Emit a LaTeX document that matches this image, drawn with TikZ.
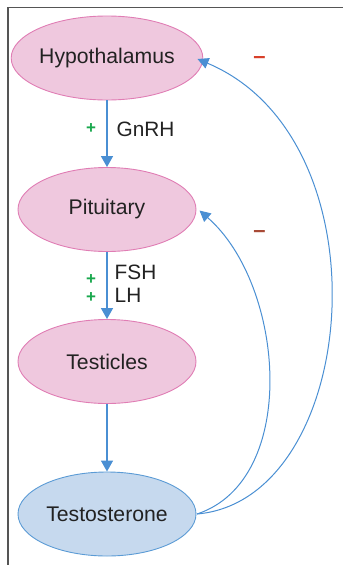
\documentclass[tikz,border=0pt]{standalone}
\usepackage{fontspec}
\setmainfont{Liberation Sans}
\usetikzlibrary{arrows.meta,shapes.geometric}
\definecolor{pinkfill}{HTML}{EFC8DE}
\definecolor{pinkdraw}{HTML}{E07DB4}
\definecolor{bluefill}{HTML}{C6D9EE}
\definecolor{bluedraw}{HTML}{5B9BD5}
\definecolor{arrowblue}{HTML}{4A8FD3}
\definecolor{plusgreen}{HTML}{1AA84E}
\definecolor{minusred}{HTML}{D8402A}
\definecolor{minusbrown}{HTML}{A84A36}
\definecolor{framegray}{HTML}{555555}
\definecolor{txt}{HTML}{222222}
\tikzset{
  organ/.style={ellipse, minimum width=178pt, minimum height=84pt, inner sep=0pt,
    fill=pinkfill, draw=pinkdraw, line width=0.9pt, text=txt,
    font=\fontsize{21.2}{25}\selectfont},
  hormone/.style={organ, fill=bluefill, draw=bluedraw},
  flow/.style={draw=arrowblue, line width=1.4pt, -{Triangle[width=12pt,length=11pt]}},
  fb/.style={draw=arrowblue, line width=1pt, -{Triangle[width=11pt,length=11pt]}},
  lbl/.style={text=txt, font=\fontsize{20.8}{24}\selectfont, anchor=west, inner sep=0pt},
  plus/.style={text=plusgreen, font=\fontsize{17}{18}\selectfont\bfseries, inner sep=0pt},
  minus/.style={font=\fontsize{22}{24}\selectfont\bfseries, inner sep=0pt}
}
\begin{document}
\begin{tikzpicture}[x=1pt,y=-1pt]
\useasboundingbox (0,0) rectangle (343,565);
\draw[framegray, line width=1.5pt] (8,565) -- (8,7.5) -- (343,7.5);
\node[organ] (hyp) at (107,58) {Hypothalamus};
\node[organ] (pit) at (107,209.5) {Pituitary};
\node[organ] (tes) at (107,361.5) {Testicles};
\node[hormone] (tst) at (107,514) {Testosterone};
\draw[flow] (hyp) -- (pit);
\draw[flow] (pit) -- (tes);
\draw[flow] (tes) -- (tst);
\node[lbl] (gnrh) at (116.5,129) {GnRH};
\node[lbl] (fsh) at (114.5,272) {FSH};
\node[lbl] (lh) at (114.5,295) {LH};
\node[plus] (p1) at (91,129) {+};
\node[plus] (p2) at (91,279.5) {+};
\node[plus] (p3) at (91,297.5) {+};
\coordinate (s) at (197,514);
\coordinate (hend) at (197.5,59);
\coordinate (pend) at (199.5,210.5);
\draw[fb] (s) .. controls (360,500) and (390,140) .. (hend);
\draw[fb] (s) .. controls (300,480) and (285,285) .. (pend);
\node[minus, text=minusred] (m1) at (259.5,60) {–};
\node[minus, text=minusbrown] (m2) at (259.5,234) {–};
\end{tikzpicture}
\end{document}
